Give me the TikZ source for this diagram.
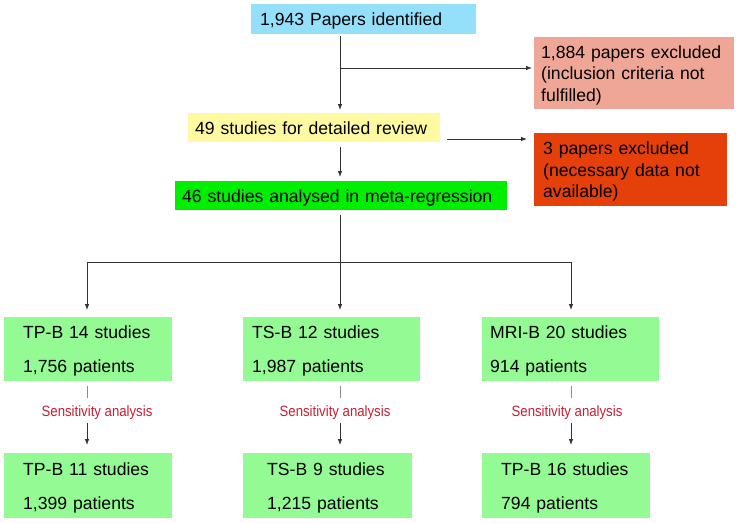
\documentclass[tikz,border=0pt]{standalone}
\usepackage{fontspec}
\setmainfont{Liberation Sans}
\newfontfamily\narrowsans[FakeStretch=0.88]{Liberation Sans}
\usepackage{tikz}
\usetikzlibrary{arrows.meta}

\definecolor{idblue}{RGB}{148,224,250}
\definecolor{exclpink}{RGB}{240,166,150}
\definecolor{exclred}{RGB}{229,64,10}
\definecolor{revyellow}{RGB}{255,250,162}
\definecolor{metagreen}{RGB}{0,238,0}
\definecolor{armgreen}{RGB}{148,250,148}
\definecolor{sensred}{RGB}{200,30,50}

\begin{document}
\begin{tikzpicture}[x=1pt, y=-1pt]
    % Styles
    \tikzstyle{box} = [rectangle, draw=none, anchor=north west, align=left, inner ysep=0pt, text depth=0pt, font=\fontsize{17.6}{21.5}\selectfont]
    \tikzstyle{excl} = [box, text depth=43pt]
    \tikzstyle{pair} = [box, fill=armgreen, text depth=34pt, font=\fontsize{17.6}{34}\selectfont]
    \tikzstyle{arrow} = [-{Latex[length=6pt,width=4.5pt]}, line width=0.8pt, black!80]
    \tikzstyle{conn} = [line width=0.8pt, black!80]
    \tikzstyle{greyconn} = [line width=0.8pt, black!45]
    \tikzstyle{sens} = [font=\narrowsans\fontsize{15}{17}\selectfont, text=sensred, inner sep=0pt]

    \useasboundingbox (0,0) rectangle (739,523);

    % Nodes
    \node[box, fill=idblue, minimum width=225pt, minimum height=30pt, inner xsep=9pt, text width=207pt] (found) at (251,4) {1,943 Papers identified};
    \node[excl, fill=exclpink, minimum width=200pt, minimum height=72pt, inner xsep=7pt, text width=186pt] (excl1) at (534,37) {1,884 papers excluded\\(inclusion criteria not\\fulfilled)};
    \node[box, fill=revyellow, minimum width=252pt, minimum height=29pt, inner xsep=7pt, text width=238pt] (review) at (188,113) {49 studies for detailed review};
    \node[excl, fill=exclred, minimum width=193pt, minimum height=73pt, inner xsep=9pt, text width=175pt] (excl2) at (534,133) {3 papers excluded\\(necessary data not\\available)};
    \node[box, fill=metagreen, minimum width=332pt, minimum height=29pt, inner xsep=7pt, text width=318pt] (meta) at (175,181) {46 studies analysed in meta-regression};

    \node[pair, minimum width=168pt, minimum height=64pt, inner xsep=19pt, text width=130pt] (tpb) at (4,317) {TP-B 14 studies\\1,756 patients};
    \node[pair, minimum width=177pt, minimum height=64pt, inner xsep=9pt, text width=159pt] (tsb) at (243,317) {TS-B 12 studies\\1,987 patients};
    \node[pair, minimum width=177pt, minimum height=64pt, inner xsep=8pt, text width=161pt] (mrib) at (482,317) {MRI-B 20 studies\\914 patients};

    \node[sens] (sens1) at (97,413) {Sensitivity analysis};
    \node[sens] (sens2) at (335,413) {Sensitivity analysis};
    \node[sens] (sens3) at (567,413) {Sensitivity analysis};

    \node[pair, minimum width=168pt, minimum height=65pt, inner xsep=19pt, text width=130pt] (tpb2) at (4,453) {TP-B 11 studies\\1,399 patients};
    \node[pair, minimum width=169pt, minimum height=65pt, inner xsep=24pt, text width=121pt] (tsb2) at (243,453) {TS-B 9 studies\\1,215 patients};
    \node[pair, minimum width=168pt, minimum height=65pt, inner xsep=19pt, text width=130pt] (mrib2) at (482,453) {TP-B 16 studies\\794 patients};

    % Junctions
    \coordinate (fork1) at (340,68);
    \coordinate (fork2) at (447,139);
    \coordinate (split) at (340,262);
    \coordinate (col1) at (87,262);
    \coordinate (col3) at (571,262);

    % Arrows
    \draw[arrow, shorten <=2pt, shorten >=3pt] (found.south -| split) -- (review.north -| split);
    \draw[arrow, shorten >=2pt] (fork1) -- (fork1 -| excl1.west);
    \draw[arrow, shorten >=7pt] (fork2) -- (fork2 -| excl2.west);
    \draw[arrow, shorten <=5pt, shorten >=4pt] (review.south -| split) -- (meta.north -| split);
    \draw[conn, shorten <=5pt] (meta.south -| split) -- (split);
    \draw[conn] (col1) -- (col3);
    \draw[arrow, shorten >=7pt] (col1) -- (col1 |- tpb.north);
    \draw[arrow, shorten >=7pt] (split) -- (split |- tsb.north);
    \draw[arrow, shorten >=7pt] (col3) -- (col3 |- mrib.north);

    % Sensitivity steps
    \draw[greyconn, shorten <=5pt, shorten >=8pt] (col1 |- tpb.south) -- (col1 |- sens1.north);
    \draw[greyconn, shorten <=5pt, shorten >=8pt] (split |- tsb.south) -- (split |- sens2.north);
    \draw[greyconn, shorten <=5pt, shorten >=8pt] (col3 |- mrib.south) -- (col3 |- sens3.north);
    \draw[arrow, shorten <=3pt, shorten >=8pt] (col1 |- sens1.south) -- (col1 |- tpb2.north);
    \draw[arrow, shorten <=3pt, shorten >=8pt] (split |- sens2.south) -- (split |- tsb2.north);
    \draw[arrow, shorten <=3pt, shorten >=8pt] (col3 |- sens3.south) -- (col3 |- mrib2.north);
\end{tikzpicture}
\end{document}
